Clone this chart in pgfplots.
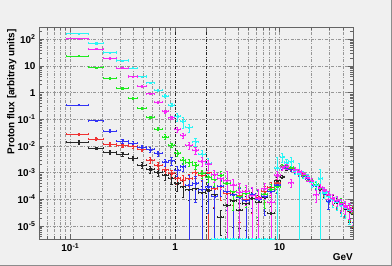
\documentclass[border=0pt]{standalone}
\usepackage{fontspec}
\setmainfont{Liberation Sans}
\usepackage{pgfplots}
\usepackage{pgfplotstable}
\pgfplotsset{compat=1.18}
\definecolor{bg}{RGB}{240,240,240}
\definecolor{ccol}{RGB}{40,245,245}
\definecolor{mcol}{RGB}{245,40,245}
\definecolor{gcol}{RGB}{30,235,30}
\definecolor{bcol}{RGB}{50,50,245}
\definecolor{rcol}{RGB}{240,50,50}
\definecolor{kcol}{RGB}{40,40,40}
\definecolor{gridc}{RGB}{150,150,150}
\definecolor{framec}{RGB}{100,100,100}

\pgfplotstableread{
lo hi c cr m mr g gr b br r rr k kr
0.092 0.149 162 0.03 105 0.03 23.6 0.04 0.35 0.05 0.028 0.12 0.0138 0.15
0.149 0.204 72 0.04 43 0.04 8.9 0.05 0.089 0.08 0.0185 0.12 0.0083 0.12
0.204 0.274 32 0.04 19.5 0.05 3.5 0.06 0.037 0.12 0.0117 0.15 0.0059 0.15
0.274 0.355 16 0.05 8.4 0.05 1.46 0.07 0.0155 0.15 0.0104 0.15 0.005 0.15
0.355 0.438 8.4 0.05 4.0 0.06 0.62 0.08 0.0126 0.15 0.0101 0.15 0.0035 0.2
0.438 0.530 4.0 0.07 1.78 0.07 0.26 0.1 0.009 0.18 0.0076 0.18 0.0019 0.25
0.530 0.627 2.37 0.08 0.91 0.08 0.12 0.12 0.0075 0.2 0.003 0.25 0.00134 0.3
0.627 0.747 1.23 0.09 0.44 0.1 0.044 0.15 0.0054 0.22 0.0019 0.3 0.00105 0.3
0.747 0.863 0.76 0.1 0.2 0.12 0.022 0.2 0.0025 0.3 0.0013 0.3 0.00083 0.35
0.863 0.984 0.35 0.15 0.115 0.15 0.011 0.2 0.0028 0.3 0.00095 0.35 0.00063 0.4
0.984 1.12 0.13 0.35 0.042 0.2 0.0054 0.25 0.00126 0.4 0.00063 0.4 0.0004 0.5
1.12 1.26 0.085 0.45 0.025 0.25 0.003 0.3 0.0017 0.35 0.00054 0.45 0.0003 0.6
1.26 1.462 0.05 0.35 0.011 0.3 0.0024 0.3 0.00035 1.3 0.0006 0.5 0.00023 0.6
1.462 1.679 0.0145 0.3 0.007 0.3 0.0019 0.3 0.0004 0.8 0.001 0.4 0.00025 0.6
1.679 1.928 0.005 0.4 0.0027 0.35 0.00095 0.35 0.00023 1.2 0.0008 0.4 0.00018 0.7
1.928 2.213 0.0022 0.6 0.0021 0.4 0.0007 0.4 0.0003 0.9 0.001 1.3 0.00022 0.6
2.213 2.541 3.3e-6 0 0.00085 0.5 0.00056 0.45 0.00013 1.2 0.00025 0.8 0.00015 0.7
2.541 2.917 3.3e-6 0 0.0006 0.6 0.0008 0.4 0.00032 0.6 0.0003 0.7 2.2e-5 0.8
2.917 3.350 3.3e-6 0 0.0005 1.2 0.0004 0.5 0.0002 0.8 0.00017 1.1 6e-5 0.9
3.350 3.846 3.3e-6 0 0.00035 0.6 0.0002 0.8 0.00015 1.2 0.0002 0.7 9e-5 0.9
3.846 4.416 3.3e-6 0 0.00019 1.1 0.00013 1.1 0.00012 1.2 0.00014 0.9 4e-5 0.8
4.416 5.070 3.3e-6 0 0.0002 0.7 0.00017 0.7 9e-5 1.2 0.0001 1.2 7e-5 0.9
5.070 5.821 3.3e-6 0 0.00014 1.1 0.00014 1.1 0.00016 0.7 0.00015 0.8 0.00011 0.7
5.821 6.683 3.3e-6 0 0.00011 1.1 0.00011 0.8 0.0001 1.2 0.00012 0.9 8e-5 0.8
6.683 7.674 3.3e-6 0 0.00025 0.6 0.00016 0.7 0.00013 0.8 0.0002 0.6 0.00012 0.7
7.674 8.810 3.3e-6 0 8e-5 1.1 0.00024 0.5 0.0002 0.6 0.00028 0.5 3e-5 0.9
8.810 10.12 0.0015 1.5 0.0008 0.4 0.0003 0.4 0.00035 0.5 0.0004 0.4 0.0005 0.3
10.12 11.09 0.0039 0.35 0.0016 0.2 0.0018 0.15 0.00155 0.15 0.0016 0.15 0.0007 0.15
11.09 12.16 0.0024 0.3 0.0017 0.2 0.00175 0.15 0.0016 0.15 0.00165 0.15 0.0015 0.15
12.16 13.34 0.0026 0.4 0.00042 0.35 0.00155 0.15 0.0014 0.16 0.0015 0.15 0.00145 0.15
13.34 14.62 0.0012 0.3 0.0013 0.2 0.0013 0.15 0.0012 0.18 0.00125 0.17 0.0012 0.16
14.62 16.03 0.0009 1.5 0.0011 0.2 0.00105 0.18 0.00095 0.2 0.001 0.2 0.001 0.18
16.03 17.58 0.0009 0.3 0.0009 0.2 0.00085 0.2 0.00075 0.2 0.0008 0.2 0.00078 0.2
17.58 19.28 0.0007 0.3 0.00065 0.25 0.00065 0.2 0.0006 0.22 0.00062 0.22 0.0006 0.22
19.28 21.13 0.00045 0.35 0.0005 0.25 0.00048 0.22 0.00045 0.25 0.00046 0.25 0.00045 0.25
21.13 23.17 0.00035 0.4 0.00015 0.5 0.00036 0.25 0.00033 0.28 0.00034 0.28 0.00033 0.28
23.17 25.41 0.0006 1.2 0.00028 0.3 0.00026 0.28 0.00025 0.3 0.00025 0.3 0.00024 0.3
25.41 27.86 0.00018 0.4 0.00022 0.3 0.0002 0.3 0.00017 0.35 0.00019 0.33 0.00018 0.33
27.86 30.55 0.00013 0.4 0.00015 0.35 0.00015 0.35 8.5e-5 0.5 0.00014 0.38 0.000135 0.38
30.55 33.50 0.0001 0.5 0.00011 0.4 0.00011 0.4 0.00011 0.4 0.000105 0.42 0.0001 0.42
33.50 36.73 8e-5 0.5 9e-5 0.4 9e-5 0.45 8.5e-5 0.45 8e-5 0.47 7.5e-5 0.47
36.73 40.27 6e-5 0.6 7e-5 0.5 7.5e-5 0.5 6.5e-5 0.5 6.2e-5 0.5 6e-5 0.5
40.27 44.16 5e-5 0.6 5.5e-5 0.5 5.5e-5 0.55 5e-5 0.55 4.8e-5 0.55 4.6e-5 0.55
44.16 48.42 4e-5 0.7 4.5e-5 0.6 4.2e-5 0.6 4.5e-5 0.6 3.8e-5 0.6 3.6e-5 0.6
48.42 53.09 3.5e-5 0.7 3.5e-5 0.7 3.2e-5 0.7 3.5e-5 0.6 3e-5 0.7 2.8e-5 0.7
}\data

\pgfplotsset{
  hist/.style args={#1/#2}{
    color=#1, only marks, mark=square*, mark size=0.6bp,
    error bars/.cd, x dir=both, x explicit, y dir=both, y explicit,
    error bar style={line width=0.5bp, #1},
    error mark options={rotate=90, mark size=1.1bp, line width=0.5bp, #1},
  },
}
\newcommand{\series}[2]{%
  \addplot[hist=#1/#2] table[x expr={(\thisrow{lo}+\thisrow{hi})/2}, y=#2,
    x error expr={(\thisrow{hi}-\thisrow{lo})/2},
    y error plus expr={\thisrow{#2}*\thisrow{#2r}},
    y error minus expr={\thisrow{#2}*min(\thisrow{#2r},0.9999)}] {\data};}

\begin{document}
\begin{tikzpicture}
\fill[bg] (0bp,0bp) rectangle (392bp,266bp);
\useasboundingbox (0bp,0bp) rectangle (392bp,266bp);
\draw[black!45, line width=1bp] (0bp,0.5bp) -- (392bp,0.5bp);
\draw[black!45, line width=1bp] (391.5bp,0bp) -- (391.5bp,266bp);
\begin{axis}[
  at={(39bp,27bp)}, anchor=south west, scale only axis,
  width=314bp, height=212bp,
  xmode=log, ymode=log,
  xmin=0.0502, xmax=50.1, ymin=3.26e-6, ymax=289,
  axis background/.style={fill=bg},
  axis line style={framec, line width=0.7bp},
  tick align=inside, major tick length=5bp, minor tick length=3bp,
  tick style={framec, line width=0.5bp},
  xtick={0.1,1,10}, xticklabels={10\textsuperscript{-1},1,10},
  minor xtick={0.06,0.07,0.08,0.09,0.2,0.3,0.4,0.5,0.6,0.7,0.8,0.9,2,3,4,5,6,7,8,9,20,30,40},
  ytick={1e-5,1e-4,1e-3,1e-2,1e-1,1,10,100},
  yticklabels={10\textsuperscript{-5},10\textsuperscript{-4},10\textsuperscript{-3},10\textsuperscript{-2},10\textsuperscript{-1},1,10,10\textsuperscript{2}},
  minor ytick={4e-6,5e-6,6e-6,7e-6,8e-6,9e-6,2e-5,3e-5,4e-5,5e-5,6e-5,7e-5,8e-5,9e-5,2e-4,3e-4,4e-4,5e-4,6e-4,7e-4,8e-4,9e-4,0.002,0.003,0.004,0.005,0.006,0.007,0.008,0.009,0.02,0.03,0.04,0.05,0.06,0.07,0.08,0.09,0.2,0.3,0.4,0.5,0.6,0.7,0.8,0.9,2,3,4,5,6,7,8,9,20,30,40,50,60,70,80,90,200},
  xmajorgrids=true, xminorgrids=true, ymajorgrids=true,
  major grid style={gridc, line width=0.5bp, dash pattern=on 3bp off 1.5bp on 0.8bp off 1.5bp},
  minor grid style={gridc, line width=0.5bp, dash pattern=on 3bp off 1.5bp on 0.8bp off 1.5bp},
  extra x ticks={1,2}, extra x tick labels={},
  extra x tick style={grid=major, major grid style={black!85, line width=0.5bp, dash pattern=on 3bp off 1.5bp on 0.8bp off 1.5bp}},
  ticklabel style={font=\bfseries\fontsize{10}{12}\selectfont, black},
  xticklabel style={yshift=-1bp},
  clip=true,
]
\series{kcol}{k}
\series{rcol}{r}
\series{bcol}{b}
\series{gcol}{g}
\series{ccol}{c}
\series{mcol}{m}
\end{axis}
\node[rotate=90, anchor=east, font=\bfseries\fontsize{10}{12}\selectfont, inner sep=0pt] at (11.7bp,237bp) {Proton flux [arbitray units]};
\node[anchor=base east, font=\bfseries\fontsize{10}{12}\selectfont, inner sep=0pt] at (353bp,6bp) {GeV};
\end{tikzpicture}
\end{document}
